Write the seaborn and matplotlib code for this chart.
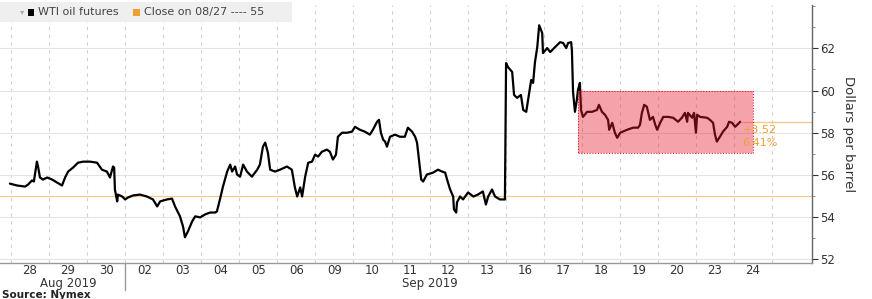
import numpy as np
import pandas as pd
import matplotlib
matplotlib.use("Agg")
import matplotlib.pyplot as plt
import matplotlib.patches as mpatches
import matplotlib.transforms as mtrans
import seaborn as sns

# trading days shown on the x axis
days = ['28', '29', '30', '02', '03', '04', '05', '06', '09', '10',
        '11', '12', '13', '16', '17', '18', '19', '20', '23', '24']
months = ['Aug 2019', 'Sep 2019']

# WTI futures, time in trading days since the 08/28 open
t = [-0.03, 0.16, 0.37, 0.45, 0.55, 0.60, 0.68, 0.71, 0.76, 0.84, 0.95, 1.08, 1.21, 1.34, 1.42,
     1.50, 1.63, 1.76, 1.89, 2.08, 2.26, 2.39, 2.52, 2.60, 2.68, 2.71, 2.73, 2.79, 2.81, 2.92,
     3.00, 3.07, 3.21, 3.39, 3.57, 3.73, 3.84, 3.92, 4.10, 4.23, 4.31, 4.44, 4.52, 4.57, 4.65,
     4.76, 4.84, 4.97, 5.10, 5.23, 5.36, 5.41, 5.49, 5.57, 5.68, 5.76, 5.81, 5.89, 5.94, 6.02,
     6.10, 6.20, 6.33, 6.47, 6.54, 6.62, 6.68, 6.75, 6.81, 6.94, 7.07, 7.25, 7.38, 7.46, 7.52,
     7.60, 7.65, 7.73, 7.81, 7.91, 7.99, 8.07, 8.17, 8.30, 8.38, 8.46, 8.54, 8.59, 8.70, 8.83,
     8.96, 9.04, 9.17, 9.30, 9.43, 9.51, 9.62, 9.67, 9.72, 9.78, 9.83, 9.88, 9.96, 10.09, 10.22,
     10.35, 10.43, 10.54, 10.62, 10.67, 10.72, 10.78, 10.83, 10.93, 11.09, 11.22, 11.33, 11.41,
     11.46, 11.54, 11.62, 11.64, 11.70, 11.72, 11.80, 11.88, 12.01, 12.15, 12.27, 12.40, 12.48,
     12.54, 12.64, 12.72, 12.85, 12.98, 13.01, 13.06, 13.17, 13.22, 13.30, 13.40, 13.46, 13.54,
     13.59, 13.67, 13.72, 13.77, 13.83, 13.88, 13.96, 13.98, 14.09, 14.17, 14.30, 14.43, 14.51,
     14.59, 14.64, 14.72, 14.74, 14.77, 14.82, 14.87, 14.90, 14.95, 14.98, 15.03, 15.14, 15.27,
     15.40, 15.45, 15.53, 15.61, 15.69, 15.72, 15.80, 15.87, 15.93, 16.01, 16.19, 16.35, 16.48,
     16.53, 16.58, 16.64, 16.71, 16.79, 16.87, 16.93, 16.98, 17.06, 17.14, 17.27, 17.40, 17.53,
     17.63, 17.71, 17.77, 17.79, 17.90, 17.95, 18.00, 18.03, 18.11, 18.29, 18.37, 18.45, 18.50,
     18.55, 18.63, 18.71, 18.82, 18.87, 18.95, 19.03, 19.11, 19.16]
price = [55.59, 55.50, 55.45, 55.55, 55.74, 55.69, 56.63, 56.40, 55.88, 55.78, 55.88, 55.78, 55.64, 55.50, 55.88,
         56.16, 56.35, 56.58, 56.63, 56.63, 56.58, 56.25, 56.16, 55.88, 56.40, 56.35, 55.31, 54.75, 55.07, 54.98,
         54.84, 54.93, 55.03, 55.07, 54.98, 54.84, 54.51, 54.75, 54.84, 54.88, 54.51, 54.04, 53.56, 53.05, 53.33,
         53.80, 54.04, 53.99, 54.13, 54.22, 54.22, 54.27, 54.84, 55.45, 56.16, 56.49, 56.16, 56.40, 56.02, 55.92,
         56.49, 56.16, 55.92, 56.25, 56.49, 57.34, 57.53, 57.06, 56.25, 56.16, 56.25, 56.40, 56.25, 55.41, 54.98,
         55.41, 54.98, 55.92, 56.58, 56.63, 56.96, 56.87, 57.10, 57.20, 57.10, 56.73, 56.96, 57.81, 58.00, 58.00,
         58.05, 58.28, 58.14, 58.05, 57.91, 58.14, 58.52, 58.61, 58.00, 57.67, 57.58, 57.34, 57.81, 57.91, 57.81,
         57.81, 58.24, 58.05, 57.81, 57.53, 56.73, 55.78, 55.69, 56.02, 56.11, 56.25, 56.16, 56.11,
         55.78, 55.31, 54.98, 54.37, 54.22, 54.70, 54.98, 54.84, 55.17, 54.98, 55.07, 55.22, 54.60,
         54.98, 55.31, 54.98, 54.84, 54.84, 61.30, 61.11, 60.88, 59.79, 59.65, 59.79, 59.08, 58.99,
         59.56, 60.50, 60.36, 61.35, 62.06, 63.09, 62.72, 61.77, 62.01, 61.82, 62.06, 62.29, 62.25,
         62.01, 62.25, 62.29, 61.92, 59.93, 58.99, 59.56, 60.03, 60.36, 59.08, 58.75, 58.99, 58.99,
         59.08, 59.32, 58.99, 58.85, 58.61, 58.14, 58.47, 58.00, 57.76, 58.00, 58.14, 58.24, 58.24,
         58.38, 58.94, 59.32, 59.23, 58.61, 58.75, 58.38, 58.14, 58.47, 58.75, 58.75, 58.71, 58.52,
         58.71, 58.94, 58.52, 58.94, 58.71, 58.94, 58.00, 58.85, 58.75, 58.71, 58.61, 58.47, 57.91,
         57.58, 57.81, 58.05, 58.28, 58.52, 58.47, 58.28, 58.42, 58.52]

close_0827 = 55.0
last_price = 58.52
change_txt = '+3.52'
change_pct = '6.41%'
# highlighted range after the jump
box_t = [14.9, 19.5]
box_p = [57.05, 60.0]

df = pd.DataFrame({'t': t, 'price': price})

sns.set_style('white')
plt.rcParams['font.family'] = ['DejaVu Sans']

fig = plt.figure(figsize=(8.72, 2.99), dpi=100)
ax = fig.add_axes([0, 36 / 299, 812 / 872, 258 / 299])

orange = '#f0a030'
ax.axhline(close_0827, color=orange, lw=0.9, alpha=0.55, zorder=1)
sns.lineplot(data=df, x='t', y='price', color='black', lw=1.6, ax=ax, zorder=3)
ax.plot([t[-1], 21.05], [last_price, last_price], color=orange, lw=0.9, alpha=0.6, zorder=2)

ax.add_patch(mpatches.Rectangle((box_t[0], box_p[0]), box_t[1] - box_t[0], box_p[1] - box_p[0],
                                facecolor='#e8192c', alpha=0.4, edgecolor='none', zorder=4))
ax.add_patch(mpatches.Rectangle((box_t[0], box_p[0]), box_t[1] - box_t[0], box_p[1] - box_p[0],
                                facecolor='none', edgecolor='#e02030', lw=0.8, ls=(0, (1, 1.5)), zorder=5))

ax.text(19.22, last_price - 0.38, change_txt, color=orange, fontsize=8, va='center', ha='left', zorder=6)
ax.text(19.22, last_price - 1.02, change_pct, color=orange, fontsize=8, va='center', ha='left', zorder=6)

ax.set_xlim(-0.29, 21.05)
ax.set_ylim(51.83, 64.05)

# x axis: day labels centred in each session, dashed grid at boundaries
ax.set_xticks(np.arange(len(days)) + 0.5)
ax.set_xticklabels(days)
ax.set_xticks(np.arange(len(days) + 1), minor=True)
ax.tick_params(axis='x', which='major', length=0, labelsize=8.5, colors='#333333', pad=1)
ax.tick_params(axis='x', which='minor', length=0)
ax.grid(axis='x', which='minor', color='#d0d0d0', lw=0.8, ls=(0, (3, 4)))

# y axis on the right
ax.yaxis.tick_right()
ax.yaxis.set_label_position('right')
ax.set_yticks(np.arange(52, 64, 2))
ax.set_yticks(np.arange(52, 65, 1), minor=True)
ax.tick_params(axis='y', which='major', length=4, labelsize=8.5, colors='#333333', pad=2)
ax.tick_params(axis='y', which='minor', length=2, color='#777777')
ax.grid(axis='y', which='major', color='#e4e4e4', lw=0.8)
ax.set_ylabel('Dollars per barrel', rotation=270, fontsize=9.5, color='#333333', labelpad=14)
ax.set_xlabel('')

for s in ['top', 'left']:
    ax.spines[s].set_visible(False)
ax.spines['right'].set_color('#666666')
ax.spines['bottom'].set_color('#999999')
ax.spines['right'].set_linewidth(1.0)
ax.spines['bottom'].set_linewidth(1.0)

# month labels and the separator between them
trans = mtrans.blended_transform_factory(ax.transData, ax.transAxes)
ax.plot([3, 3], [0, -0.105], color='#999999', lw=1.0, transform=trans, clip_on=False)
ax.text(1.5, -0.078, months[0], transform=trans, ha='center', va='center', fontsize=8.5, color='#333333')
ax.text(11.0, -0.078, months[1], transform=trans, ha='center', va='center', fontsize=8.5, color='#333333')

fig.text(0.002, 1 - 290 / 299, 'Source: Nymex', fontsize=7.5, fontweight='bold', color='#222222',
         ha='left', va='top')

# legend strip
fig.patches.append(mpatches.Rectangle((0, 1 - 22 / 299), 292 / 872, 20 / 299, transform=fig.transFigure,
                                      facecolor='#efefef', edgecolor='none', zorder=5))
fig.patches.append(mpatches.Rectangle((28 / 872, 1 - 16 / 299), 6 / 872, 7 / 299, transform=fig.transFigure,
                                      facecolor='black', edgecolor='none', zorder=6))
fig.patches.append(mpatches.Rectangle((133 / 872, 1 - 16 / 299), 7 / 872, 7 / 299, transform=fig.transFigure,
                                      facecolor=orange, edgecolor='none', zorder=6))
fig.text(20 / 872, 1 - 12 / 299, '\u25be', fontsize=6, color='#aaaaaa', ha='left', va='center', zorder=7)
fig.text(38 / 872, 1 - 12 / 299, 'WTI oil futures', fontsize=8, color='#444444', ha='left', va='center', zorder=7)
fig.text(144 / 872, 1 - 12 / 299, 'Close on 08/27 ---- 55', fontsize=8, color='#444444', ha='left', va='center', zorder=7)

fig.savefig('out.png', dpi=100)
